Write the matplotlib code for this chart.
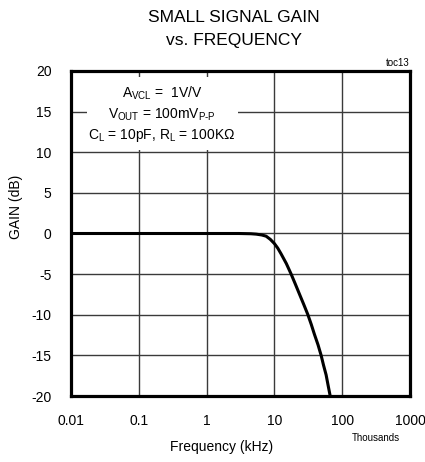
import matplotlib
matplotlib.use("Agg")
import matplotlib.pyplot as plt
from matplotlib.patches import Rectangle
from matplotlib import font_manager

# Data
freq_khz = [0.01, 0.1, 1, 3, 4.5, 5.4, 6.5, 7.55, 8.7, 10, 11.2, 12.5, 15, 17.6, 20.3, 23.4, 27, 31, 35, 38.9, 44, 48.9, 53, 57.9, 62, 66.5]
gain_db = [0, 0, 0, 0, -0.03, -0.08, -0.18, -0.33, -0.72, -1.24, -1.8, -2.48, -3.7, -4.97, -6.2, -7.45, -8.7, -9.94, -11.2, -12.4, -13.7, -15.0, -16.2, -17.4, -18.7, -20.0]
x_ticks = [0.01, 0.1, 1, 10, 100, 1000]
x_ticklabels = ["0.01", "0.1", "1", "10", "100", "1000"]
y_ticks = [-20, -15, -10, -5, 0, 5, 10, 15, 20]

names = {f.name for f in font_manager.fontManager.ttflist}
fam = "Liberation Sans" if "Liberation Sans" in names else "DejaVu Sans"
plt.rcParams["font.family"] = [fam, "DejaVu Sans"]
plt.rcParams["mathtext.fontset"] = "custom"
plt.rcParams["mathtext.rm"] = fam
plt.rcParams["mathtext.it"] = fam
plt.rcParams["mathtext.bf"] = fam

fig = plt.figure(figsize=(4.25, 4.62), dpi=100)
ax = fig.add_axes([71/425, 1-396/462, (410-71)/425, (396-71)/462])

ax.set_xscale("log")
ax.set_xlim(0.01, 1000)
ax.set_ylim(-20, 20)
ax.set_xticks(x_ticks)
ax.set_xticklabels(x_ticklabels)
ax.set_yticks(y_ticks)
ax.set_yticklabels([str(v) for v in y_ticks])
ax.minorticks_off()
ax.tick_params(axis="both", length=0, labelsize=10)
ax.tick_params(axis="y", pad=14)
ax.tick_params(axis="x", pad=13)

ax.grid(True, color="#3a3a3a", linewidth=1.0, zorder=1)
ax.set_axisbelow(True)
for s in ax.spines.values():
    s.set_linewidth(2.3)
    s.set_color("black")
    s.set_zorder(5)

# white annotation box
ax.add_patch(Rectangle((0.047, 0.757), 0.446, 0.224, transform=ax.transAxes,
                       facecolor="white", edgecolor="none", zorder=2))

ax.plot(freq_khz, gain_db, color="black", linewidth=2.2, zorder=4,
        solid_capstyle="butt", solid_joinstyle="round")

tx = 0.268
ax.text(tx, 0.932, r"A$_{\mathrm{VCL}}$ =  1V/V", transform=ax.transAxes,
        ha="center", va="center", fontsize=10, zorder=3)
ax.text(tx, 0.865, r"V$_{\mathrm{OUT}}$ = 100mV$_{\text{P-P}}$", transform=ax.transAxes,
        ha="center", va="center", fontsize=10, zorder=3)
ax.text(tx, 0.800, r"C$_{\mathrm{L}}$ = 10pF, R$_{\mathrm{L}}$ = 100KΩ", transform=ax.transAxes,
        ha="center", va="center", fontsize=10, zorder=3)

fig.text(234/425, 1-17/462, "SMALL SIGNAL GAIN", ha="center", va="center", fontsize=12.5)
fig.text(234/425, 1-41/462, "vs. FREQUENCY", ha="center", va="center", fontsize=12.5)
fig.text(410/425, 1-63/462, "toc13", ha="right", va="center", fontsize=7)
fig.text(222/425, 1-447/462, "Frequency (kHz)", ha="center", va="center", fontsize=10)
fig.text(376/425, 1-438/462, "Thousands", ha="center", va="center", fontsize=7)
fig.text(16/425, 1-207/462, "GAIN (dB)", ha="center", va="center", rotation=90, fontsize=10)

fig.savefig("out.png", dpi=100)
